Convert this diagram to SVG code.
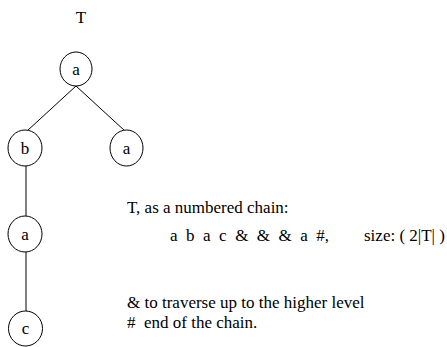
<svg xmlns="http://www.w3.org/2000/svg" width="447" height="347" viewBox="0 0 447 347">
<style>
.n{fill:#fff;stroke:#000;stroke-width:1}
.e{stroke:#000;stroke-width:1;fill:none}
text{font-family:"Liberation Serif","Times New Roman",serif;font-size:17px;fill:#000}
.c{text-anchor:middle}
</style>
<rect width="447" height="347" fill="#fff"/>
<text x="81" y="23" class="c">T</text>
<g id="connectors">
<line class="e" x1="76" y1="86" x2="27" y2="131"/>
<line class="e" x1="76" y1="86" x2="125" y2="131"/>
<line class="e" x1="26" y1="166" x2="26" y2="216"/>
<line class="e" x1="26" y1="252" x2="26" y2="311"/>
</g>
<g id="n1"><ellipse class="n" cx="76" cy="69" rx="16" ry="17"/><text x="76" y="75" class="c">a</text></g>
<g id="n2"><ellipse class="n" cx="25" cy="148" rx="17" ry="18"/><text x="25" y="154" class="c">b</text></g>
<g id="n3"><ellipse class="n" cx="126.5" cy="148" rx="16.5" ry="18"/><text x="126.5" y="154" class="c">a</text></g>
<g id="n4"><ellipse class="n" cx="25" cy="234" rx="17" ry="18"/><text x="25" y="240" class="c">a</text></g>
<g id="n5"><ellipse class="n" cx="25.5" cy="328.5" rx="17" ry="17.5"/><text x="25.5" y="334" class="c">c</text></g>
<text x="127" y="213">T, as a numbered chain:</text>
<text x="170" y="241" xml:space="preserve">a  b  a  c  &amp;  &amp;  &amp;  a  #,</text>
<text x="364" y="241">size: ( 2|T| )</text>
<text x="127" y="308">&amp; to traverse up to the higher level</text>
<text x="127" y="328" xml:space="preserve">#  end of the chain.</text>
</svg>
